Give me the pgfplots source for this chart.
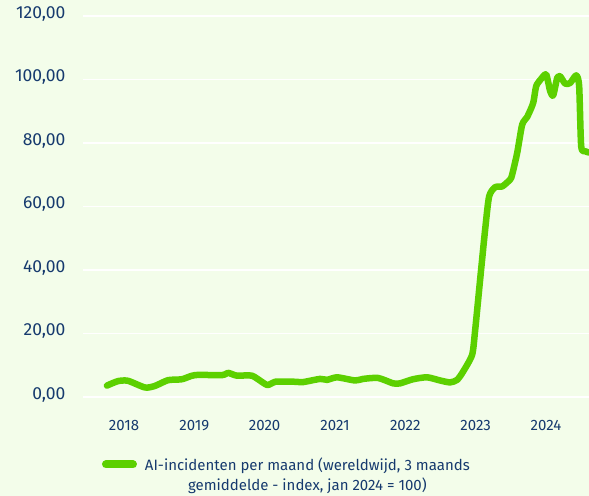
\documentclass[border=0pt]{standalone}
\usepackage{pgfplots}
\pgfplotsset{compat=1.18}
\usepackage{fontspec}
\setmainfont{Fira Sans}
\definecolor{bg}{RGB}{243,253,234}
\definecolor{navy}{RGB}{22,58,110}
\definecolor{lime}{RGB}{92,208,0}
\begin{document}
\begin{tikzpicture}
\fill[bg, use as bounding box] (-83bp,-99bp) rectangle (506bp,397bp);
\begin{axis}[
  scale only axis, width=506bp, height=381bp,
  xmin=2017.417, xmax=2024.612, ymin=0, ymax=120,
  ytick={0,20,...,120},
  xtick={2018,2019,2020,2021,2022,2023,2024},
  xticklabels={2018,2019,2020,2021,2022,2023,2024},
  ymajorgrids, grid style={white, line width=1.5bp},
  axis line style={draw=none}, major tick length=0pt,
  /pgf/number format/.cd, fixed, fixed zerofill, precision=2, use comma, assume math mode=true,
  /pgfplots/.cd,
  yticklabel style={font=\fontsize{17.5bp}{20bp}\selectfont, text=navy, anchor=east, xshift=-14bp, yshift=2bp},
  xticklabel style={font=\fontsize{15bp}{18bp}\selectfont, text=navy, anchor=north, yshift=-20bp},
  legend style={at={(0.403,-0.177)}, anchor=center, draw=none, fill=none, inner sep=0pt,
    font=\fontsize{15bp}{18bp}\selectfont, text=navy, column sep=6bp},
  legend image code/.code={\draw[line width=8bp, line cap=round, lime] (0bp,0bp) -- (27bp,0bp);},
]
\addplot[lime, line width=6.5bp, line join=round, line cap=round, smooth, tension=0.4] coordinates {
(2017.758,3.6) (2017.915,5.0) (2018.057,5.1) (2018.299,3.0) (2018.441,3.5)
(2018.626,5.3) (2018.825,5.6) (2019.010,6.9) (2019.394,6.9) (2019.480,7.6)
(2019.608,6.7) (2019.821,6.7) (2020.034,3.8) (2020.148,4.8) (2020.433,4.8)
(2020.546,4.7) (2020.788,5.7) (2020.888,5.4) (2021.030,6.2) (2021.286,5.2)
(2021.400,5.7) (2021.613,6.0) (2021.827,4.3) (2021.926,4.3) (2022.111,5.6)
(2022.310,6.2) (2022.495,5.2) (2022.637,4.6) (2022.737,5.4) (2022.822,8.0)
(2022.950,13.3) (2022.993,21) (2023.064,37) (2023.135,52.7) (2023.192,63.2)
(2023.278,66.1) (2023.377,66.3) (2023.491,68.5) (2023.519,70) (2023.591,76.9)
(2023.662,85.8) (2023.733,88.2) (2023.818,92.6) (2023.861,97.9) (2023.932,100.2)
(2024.003,101.6) (2024.060,96.3) (2024.103,95) (2024.160,100.5) (2024.202,101)
(2024.273,98.7) (2024.344,98.9) (2024.430,101.3) (2024.472,97.9) (2024.501,79)
(2024.558,77.4) (2024.615,77)
};
\addlegendentry{\begin{tabular}[t]{@{}c@{}}AI-incidenten per maand (wereldwijd, 3 maands\\[2bp] gemiddelde - index, jan 2024 = 100)\end{tabular}}
\end{axis}
\end{tikzpicture}
\end{document}
